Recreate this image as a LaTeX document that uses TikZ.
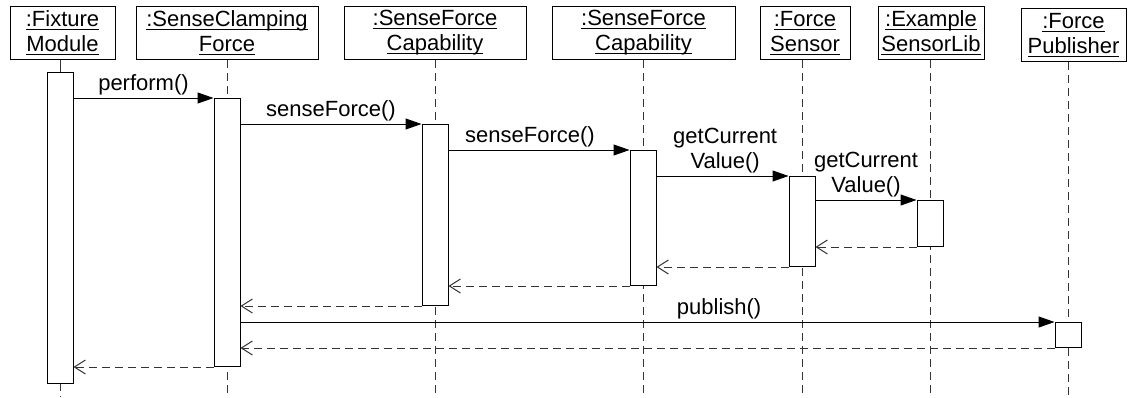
\documentclass[tikz,border=0pt]{standalone}
\usepackage{fontspec}
\setmainfont{Liberation Sans}
\usetikzlibrary{arrows.meta}
\newcommand{\uln}[1]{\setbox0\hbox{#1}\rlap{\rule[-3pt]{\wd0}{1pt}}\box0}
\begin{document}
\begin{tikzpicture}[x=1pt,y=-1pt, line width=1pt,
  obj/.style={draw, fill=white, minimum height=53pt, inner sep=0pt, align=center, font=\fontsize{22}{25}\selectfont, anchor=north},
  act/.style={draw, fill=white, minimum width=26pt, inner sep=0pt, anchor=north},
  life/.style={draw=black!80, dash pattern=on 8pt off 5pt},
  call/.style={-{Triangle[length=16pt,width=11pt]}},
  ret/.style={draw=black!80, dash pattern=on 8pt off 5pt, -{Straight Barb[length=11pt,width=14pt]}},
  lbl/.style={font=\fontsize{22}{25}\selectfont, align=center, inner sep=2pt}]
\useasboundingbox (0,0) rectangle (1131,397);

% headers
\node[obj, minimum width=105pt] (hFM) at (62.5,6) {\uln{:Fixture}\\\uln{Module}};
\node[obj, minimum width=182pt] (hSCF) at (227,6) {\uln{:SenseClamping}\\\uln{Force}};
\node[obj, minimum width=182pt] (hSFC1) at (435,6) {\uln{:SenseForce}\\\uln{Capability}};
\node[obj, minimum width=183pt] (hSFC2) at (643.5,6) {\uln{:SenseForce}\\\uln{Capability}};
\node[obj, minimum width=90pt] (hFS) at (805,6) {\uln{:Force}\\\uln{Sensor}};
\node[obj, minimum width=106pt] (hESL) at (931,6) {\uln{:Example}\\\uln{SensorLib}};
\node[obj, minimum width=105pt] (hFP) at (1073.5,8) {\uln{:Force}\\\uln{Publisher}};

% lifeline ends
\coordinate (eFM) at (60,397);
\coordinate (eSCF) at (227,397);
\coordinate (eSFC1) at (435,397);
\coordinate (eSFC2) at (643,397);
\coordinate (eFS) at (802,397);
\coordinate (eESL) at (930,397);
\coordinate (eFP) at (1068,397);
\draw[draw=black!80] (hFM.south -| eFM) -- (eFM |- 0,72);
\draw[life] (60,383) -- (eFM);
\draw[life] (hSCF.south -| eSCF) -- (eSCF);
\draw[life] (hSFC1.south -| eSFC1) -- (eSFC1);
\draw[life] (hSFC2.south -| eSFC2) -- (eSFC2);
\draw[life] (hFS.south -| eFS) -- (eFS);
\draw[life] (hESL.south -| eESL) -- (eESL);
\draw[life] (hFP.south -| eFP) -- (eFP);

% activations
\node[act, minimum height=311pt] (aFM) at (60,72) {};
\node[act, minimum height=268pt] (aSCF) at (227,98) {};
\node[act, minimum height=181pt] (aSFC1) at (435,124) {};
\node[act, minimum height=135pt] (aSFC2) at (643,150) {};
\node[act, minimum height=90pt] (aFS) at (802,176) {};
\node[act, minimum height=46pt] (aESL) at (930,200) {};
\node[act, minimum height=25pt] (aFP) at (1068,322) {};

% calls
\draw[call] (aFM.east |- aSCF.north) -- (aSCF.north west) node[lbl, midway, above] {perform()};
\draw[call] (aSCF.east |- aSFC1.north) -- (aSFC1.north west) node[lbl, midway, above] {senseForce()};
\draw[call] (aSFC1.east |- aSFC2.north) -- (aSFC2.north west) node[lbl, pos=0.45, above] {senseForce()};
\draw[call] (aSFC2.east |- aFS.north) -- (aFS.north west) node[lbl, pos=0.52, above] {getCurrent\\Value()};
\draw[call] (aFS.east |- aESL.north) -- (aESL.north west) node[lbl, midway, above] {getCurrent\\Value()};
\draw[call] (aSCF.east |- aFP.north) -- (aFP.north west) node[lbl, pos=0.588, above] {publish()};

% returns
\draw[ret] (aESL.south west) -- (aFS.east |- aESL.south);
\draw[ret] (aFS.south west) -- (aSFC2.east |- aFS.south);
\draw[ret] (aSFC2.south west) -- (aSFC1.east |- aSFC2.south);
\draw[ret] (aSFC1.south west) -- (aSCF.east |- aSFC1.south);
\draw[ret] (aFP.south west) -- (aSCF.east |- aFP.south);
\draw[ret] (aSCF.south west) -- (aFM.east |- aSCF.south);
\end{tikzpicture}
\end{document}
